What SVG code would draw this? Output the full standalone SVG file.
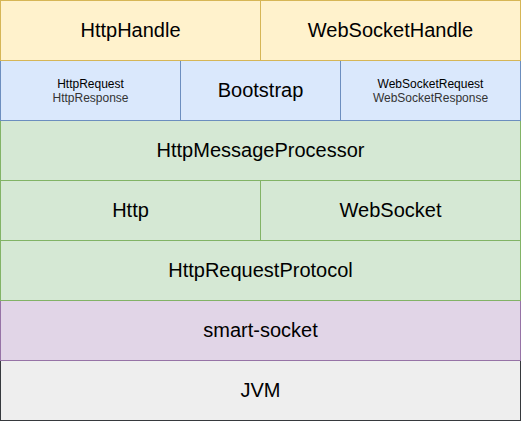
<svg xmlns="http://www.w3.org/2000/svg" width="521" height="421" viewBox="0 0 521 421">
<style>
rect{stroke-width:1}
.y{fill:#fff2cc;stroke:#d6b656}
.b{fill:#dae8fc;stroke:#6c8ebf}
.g{fill:#d5e8d4;stroke:#82b366}
.p{fill:#e1d5e7;stroke:#9673a6}
.k{fill:#eeeeee;stroke:#36393d}
text{font-family:"Liberation Sans",Arial,Helvetica,sans-serif;text-anchor:middle;fill:#000}
.L{font-size:20px}
.S{font-size:12px}
.s2{fill:#333333}
</style>
<rect width="521" height="421" fill="#ffffff"/>
<g id="jvm"><rect class="k" x="0.5" y="360.5" width="520" height="60"/><text class="L" x="260.5" y="397">JVM</text></g>
<g id="smart-socket"><rect class="p" x="0.5" y="300.5" width="520" height="60"/><text class="L" x="260.5" y="337">smart-socket</text></g>
<g id="HttpRequestProtocol"><rect class="g" x="0.5" y="240.5" width="520" height="60"/><text class="L" x="260.5" y="277">HttpRequestProtocol</text></g>
<g id="Http"><rect class="g" x="0.5" y="180.5" width="260" height="60"/><text class="L" x="130.5" y="217">Http</text></g>
<g id="WebSocket"><rect class="g" x="260.5" y="180.5" width="260" height="60"/><text class="L" x="390.5" y="217">WebSocket</text></g>
<g id="HttpMessageProcessor"><rect class="g" x="0.5" y="120.5" width="520" height="60"/><text class="L" x="260.5" y="157">HttpMessageProcessor</text></g>
<g id="HttpRequestResponse"><rect class="b" x="0.5" y="60.5" width="180" height="60"/><text class="S" x="90.5" y="88">HttpRequest</text><text class="S s2" x="90.5" y="102">HttpResponse</text></g>
<g id="Bootstrap"><rect class="b" x="180.5" y="60.5" width="160" height="60"/><text class="L" x="260.5" y="97">Bootstrap</text></g>
<g id="WebSocketRequestResponse"><rect class="b" x="340.5" y="60.5" width="180" height="60"/><text class="S" x="430.5" y="88">WebSocketRequest</text><text class="S s2" x="430.5" y="102">WebSocketResponse</text></g>
<g id="HttpHandle"><rect class="y" x="0.5" y="0.5" width="260" height="60"/><text class="L" x="130.5" y="37">HttpHandle</text></g>
<g id="WebSocketHandle"><rect class="y" x="260.5" y="0.5" width="260" height="60"/><text class="L" x="390.5" y="37">WebSocketHandle</text></g>
<g id="connectors"></g>
</svg>
